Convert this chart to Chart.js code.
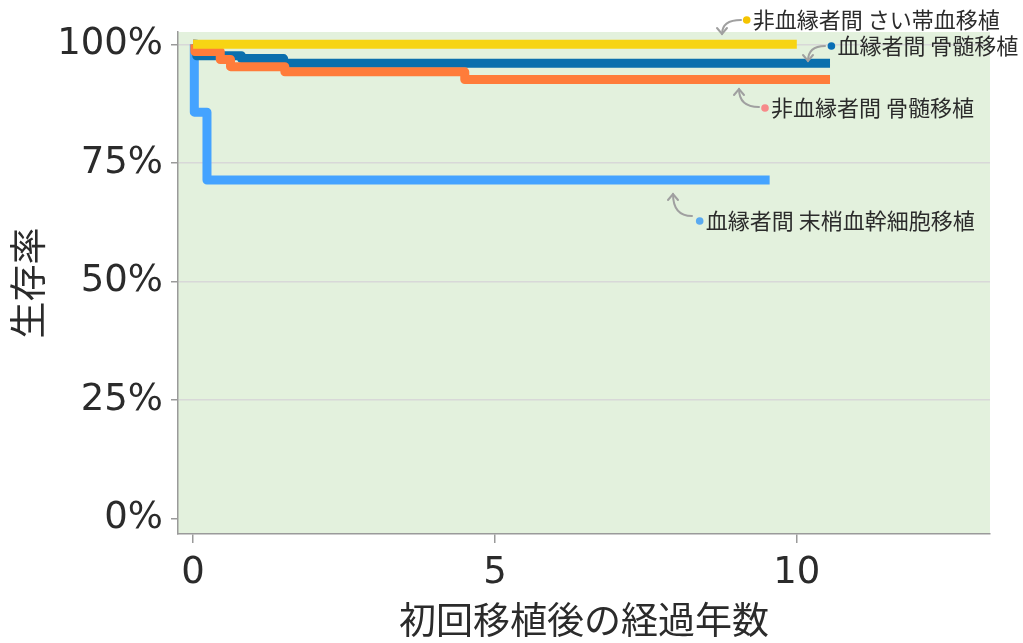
<!DOCTYPE html>
<html lang="ja">
<head>
<meta charset="utf-8">
<title>移植方法別の生存率</title>
<script src="https://cdn.jsdelivr.net/npm/chart.js@4.4.1/dist/chart.umd.min.js"></script>
<style>
  html, body { margin: 0; padding: 0; background: #fff; }
  #wrap { width: 1023px; height: 643px; }
</style>
</head>
<body>
<div id="wrap"><canvas id="survivalChart" width="1023" height="643"></canvas></div>
<script>
// 移植方法ごとの生存率（経過年数, %）
const seriesNames = ['非血縁者間 さい帯血移植', '非血縁者間 骨髄移植', '血縁者間 骨髄移植', '血縁者間 末梢血幹細胞移植'];

const cordYears = [0, 10.0];
const cordSurvival = [100, 100];

const unrelatedBmYears = [0, 0.03, 0.45, 0.62, 1.52, 4.5, 10.55];
const unrelatedBmSurvival = [100, 98.5, 96.8, 95.3, 94.2, 92.6, 92.6];

const relatedBmYears = [0, 0.06, 0.8, 1.5, 10.55];
const relatedBmSurvival = [100, 97.6, 97.0, 96.0, 96.0];

const relatedPbYears = [0, 0.02, 0.23, 9.55];
const relatedPbSurvival = [100, 85.7, 71.4, 71.4];

const xTicks = [0, 5, 10];
const yTicks = [0, 25, 50, 75, 100];

const toPoints = (xs, ys) => xs.map((x, i) => ({ x: x, y: ys[i] }));

const lineColors = ['#f7d414', '#ff7c3a', '#0a6fad', '#44a3ff'];
const dotColors = ['#f5c400', '#f78a8a', '#0a6fb5', '#5aaaf0'];

// 凡例の代わりに線の横へ付ける吹き出しラベル（キャンバス座標）
const callouts = [
  { series: 0, dot: [746.7, 20], from: [741, 20], to: [722, 34] },
  { series: 2, dot: [831.4, 46], from: [825, 46], to: [808, 61] },
  { series: 1, dot: [765, 108], from: [759, 107], to: [739, 89] },
  { series: 3, dot: [699.7, 221], from: [692, 216], to: [673, 194] }
];

const TEXT = '#2b2b2b';
const AXIS = '#9a9a9a';

const plotBackground = {
  id: 'plotBackground',
  beforeDraw(chart) {
    const { ctx, chartArea: a } = chart;
    ctx.save();
    ctx.fillStyle = '#e3f1dd';
    ctx.fillRect(a.left, a.top, a.right - a.left, a.bottom - a.top);
    ctx.restore();
  }
};

const calloutLabels = {
  id: 'calloutLabels',
  afterDraw(chart) {
    const ctx = chart.ctx;
    ctx.save();
    callouts.forEach(c => {
      // 曲がった矢印
      const [sx, sy] = c.from;
      const [ex, ey] = c.to;
      const dir = Math.sign(ey - sy);
      ctx.strokeStyle = '#a0a0a0';
      ctx.lineWidth = 2;
      ctx.lineCap = 'round';
      ctx.beginPath();
      ctx.moveTo(sx, sy);
      ctx.quadraticCurveTo(ex, sy, ex, ey);
      ctx.stroke();
      ctx.beginPath();
      ctx.moveTo(ex - 5, ey - dir * 6);
      ctx.lineTo(ex, ey);
      ctx.lineTo(ex + 5, ey - dir * 6);
      ctx.stroke();

      // 色の点とラベル
      ctx.fillStyle = dotColors[c.series];
      ctx.beginPath();
      ctx.arc(c.dot[0], c.dot[1], 3.8, 0, Math.PI * 2);
      ctx.fill();
      ctx.fillStyle = TEXT;
      ctx.font = '22px "Noto Sans CJK JP"';
      ctx.textBaseline = 'middle';
      ctx.textAlign = 'left';
      ctx.fillText(seriesNames[c.series], c.dot[0] + 6, c.dot[1]);
    });
    ctx.restore();
  }
};

const tickFont = { family: '"DejaVu Sans", "Noto Sans CJK JP"', size: 37 };
const titleFont = { family: '"Noto Sans CJK JP", "DejaVu Sans"', size: 37 };

const makeDataset = (i, xs, ys) => ({
  label: seriesNames[i],
  data: toPoints(xs, ys),
  borderColor: lineColors[i],
  backgroundColor: lineColors[i],
  borderWidth: 9,
  borderJoinStyle: 'round',
  stepped: true,
  pointRadius: 0,
  fill: false,
  clip: false
});

new Chart(document.getElementById('survivalChart'), {
  type: 'line',
  data: {
    datasets: [
      makeDataset(0, cordYears, cordSurvival),
      makeDataset(1, unrelatedBmYears, unrelatedBmSurvival),
      makeDataset(2, relatedBmYears, relatedBmSurvival),
      makeDataset(3, relatedPbYears, relatedPbSurvival)
    ]
  },
  options: {
    responsive: false,
    animation: false,
    devicePixelRatio: 1,
    layout: { padding: { top: 32, right: 33, left: 0, bottom: 0 } },
    plugins: {
      legend: { display: false },
      tooltip: { enabled: false }
    },
    scales: {
      x: {
        type: 'linear',
        min: -0.25,
        max: 13.2,
        afterBuildTicks: s => { s.ticks = xTicks.map(v => ({ value: v })); },
        afterFit: s => { s.height = 109; },
        grid: { drawOnChartArea: false, color: AXIS, tickLength: 9, lineWidth: 1.5 },
        border: { color: AXIS, width: 1.5 },
        ticks: { font: tickFont, color: TEXT, padding: 8, maxRotation: 0, autoSkip: false },
        title: { display: true, text: '初回移植後の経過年数', font: titleFont, color: TEXT, padding: { top: 0, bottom: 1 } }
      },
      y: {
        type: 'linear',
        min: -3.2,
        max: 102.6,
        afterBuildTicks: s => { s.ticks = yTicks.map(v => ({ value: v })); },
        afterFit: s => { s.width = 178; },
        grid: {
          color: c => (c.tick && c.tick.value === 0 ? 'rgba(0,0,0,0)' : '#d8d8d8'),
          tickColor: AXIS,
          tickLength: 7,
          lineWidth: 1.5
        },
        border: { color: AXIS, width: 1.5 },
        ticks: { font: tickFont, color: TEXT, padding: 8, callback: v => v + '%' },
        title: { display: true, text: '生存率', font: titleFont, color: TEXT, padding: { top: 6, bottom: 0 } }
      }
    }
  },
  plugins: [plotBackground, calloutLabels]
});
</script>
</body>
</html>
